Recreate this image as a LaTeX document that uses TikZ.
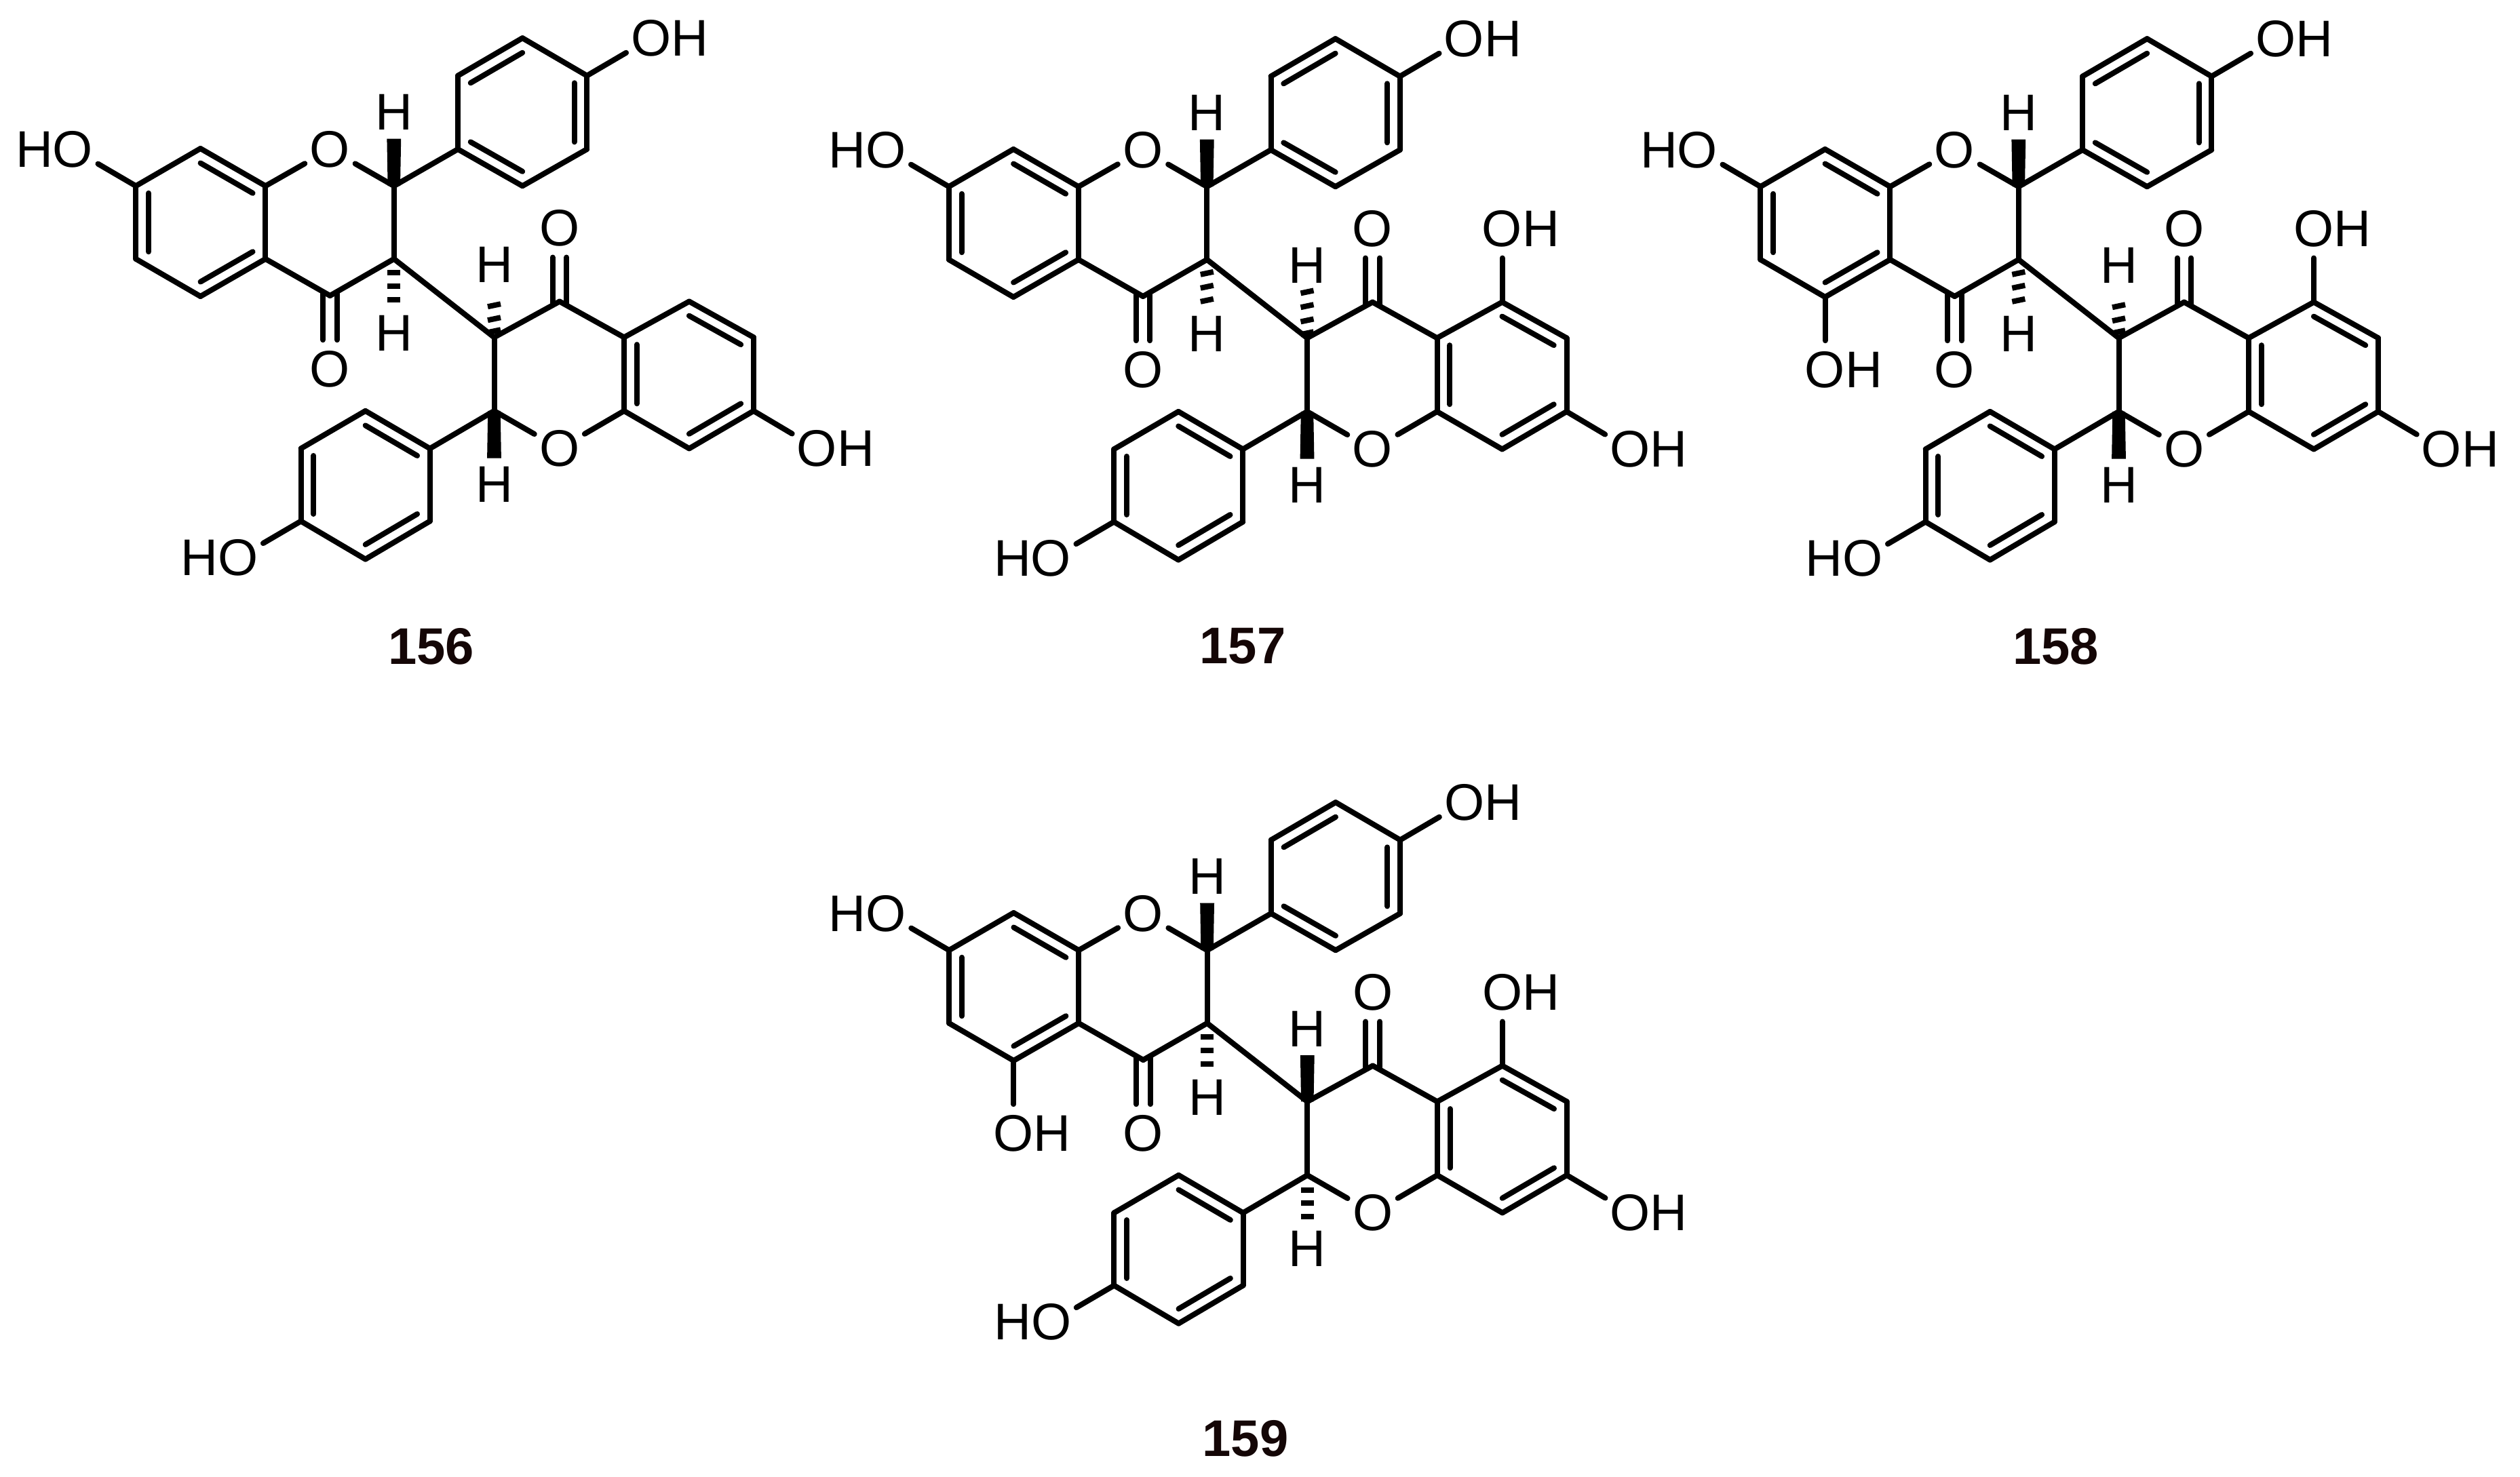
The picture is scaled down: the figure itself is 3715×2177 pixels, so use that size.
\documentclass[tikz,border=0pt]{standalone}
\usepackage{fontspec}
\usetikzlibrary{calc}
\setmainfont{Liberation Sans}
\definecolor{labelink}{RGB}{20,6,6}
\tikzset{
  bond/.style={line width=2pt,line cap=round,line join=miter,black},
  hetero/.style={circle,inner sep=0pt,minimum size=21pt,font=\fontsize{19}{19}\selectfont,text=black},
  hydro/.style={circle,inner sep=0pt,minimum size=19pt,font=\fontsize{19}{19}\selectfont,text=black},
  cmpd/.style={inner sep=0pt,font=\fontsize{19}{19}\selectfont\bfseries,text=labelink},
  hashbar/.style={line width=2pt,line cap=butt,black}
}
% aromatic inner line: edge a-b pulled toward ring centre x
\newcommand{\inner}[3]{\draw[bond] ($(#1)!.803!(#2)$) -- ($(#1)!.803!(#3)$);}
% solid wedge from atom to the border of the H node
\newcommand{\wedgebond}[2]{\fill[black] ([xshift=-2.3pt]#1) -- ([xshift=-2.6pt]#2) -- ([xshift=2.6pt]#2) -- ([xshift=2.3pt]#1) -- cycle;}
% hashed bond: atom, H node, tilt, list of distances
\newcommand{\hashbond}[4]{\foreach \d in {#4}{\draw[hashbar] ($(#1)!\d!(#2)+(-9.5,#3)$) -- ($(#1)!\d!(#2)+(9.5,-#3)$);}}
\newcommand{\flavan}[4]{%
\begin{scope}[shift={(#2,#3)},name prefix=#1-]
  % upper flavanone
  \coordinate (c7) at (200.3,274.2);
  \coordinate (c8) at (295.5,219);
  \coordinate (c8a) at (391.4,274.2);
  \coordinate (c4a) at (391.4,381.8);
  \coordinate (c5) at (295.5,437);
  \coordinate (c6) at (200.3,381.8);
  \coordinate (c2) at (580.8,274.2);
  \coordinate (c3) at (580.8,381.8);
  \coordinate (c4) at (486.5,436);
  \node[hetero] (o1) at (486.5,220) {O};
  \node[hetero] (o4) at (486.5,544) {O};
  \node[hetero] (o7) at (107.5,220) {\llap{H}O};
  \node[hydro] (h2) at (580.8,165.8) {H};
  \node[hydro] (h3) at (580.8,491) {H};
  % upper phenol
  \coordinate (p1) at (675,220);
  \coordinate (p2) at (675,111.6);
  \coordinate (p3) at (770.2,56.1);
  \coordinate (p4) at (865.3,111.6);
  \coordinate (p5) at (865.3,220);
  \coordinate (p6) at (770.2,274.2);
  \node[hetero] (op) at (960,56.1) {O\rlap{H}};
  % lower flavanone
  \coordinate (d3) at (728.5,497.4);
  \coordinate (d2) at (728.5,605.9);
  \coordinate (d4) at (824.9,444.5);
  \coordinate (d4a) at (920,497.4);
  \coordinate (d8a) at (920,605.9);
  \coordinate (d5) at (1016,444.5);
  \coordinate (d6) at (1111,497.4);
  \coordinate (d7) at (1111,605.9);
  \coordinate (d8) at (1016,661.4);
  \node[hetero] (do1) at (824.9,661.4) {O};
  \node[hetero] (do4) at (824.9,336.7) {O};
  \node[hetero] (do7) at (1204.5,661.4) {O\rlap{H}};
  \node[hydro] (d-h3) at (728.5,390.3) {H};
  \node[hydro] (d-h2) at (728.5,714.3) {H};
  % lower phenol
  \coordinate (q1) at (633.8,661.4);
  \coordinate (q2) at (538.7,605.9);
  \coordinate (q3) at (443.6,661.4);
  \coordinate (q4) at (443.6,768.5);
  \coordinate (q5) at (538.7,824.6);
  \coordinate (q6) at (633.8,768.5);
  \node[hetero] (oq) at (351,822.7) {\llap{H}O};
  % ring centres
  \coordinate (ra) at ($(c7)!.5!(c4a)$);
  \coordinate (rp) at ($(p1)!.5!(p4)$);
  \coordinate (rd) at ($(d4a)!.5!(d7)$);
  \coordinate (rq) at ($(q1)!.5!(q4)$);
  % bonds
  \foreach \a/\b in {c7/c8,c8/c8a,c8a/c4a,c4a/c5,c5/c6,c6/c7,c8a/o1,o1/c2,c2/c3,c3/c4,c4/c4a,c7/o7,
    c2/p1,p1/p2,p2/p3,p3/p4,p4/p5,p5/p6,p6/p1,p4/op,c3/d3,
    d3/d2,d2/do1,do1/d8a,d8a/d4a,d4a/d4,d4/d3,d4a/d5,d5/d6,d6/d7,d7/d8,d8/d8a,d7/do7,
    d2/q1,q1/q2,q2/q3,q3/q4,q4/q5,q5/q6,q6/q1,q4/oq}
    {\draw[bond] (\a) -- (\b);}
  % inner lines of the aromatic rings
  \inner{ra}{c7}{c6}\inner{ra}{c8}{c8a}\inner{ra}{c4a}{c5}
  \inner{rp}{p2}{p3}\inner{rp}{p4}{p5}\inner{rp}{p6}{p1}
  \inner{rd}{d4a}{d8a}\inner{rd}{d5}{d6}\inner{rd}{d7}{d8}
  \inner{rq}{q1}{q2}\inner{rq}{q3}{q4}\inner{rq}{q5}{q6}
  % carbonyls
  \draw[bond] ([xshift=-2.6pt,yshift=1.3pt]c4) -- ([xshift=-2.6pt]o4.north);
  \draw[bond] ([xshift=2.6pt,yshift=1.3pt]c4) -- ([xshift=2.6pt]o4.north);
  \draw[bond] ([xshift=-2.6pt,yshift=-1.3pt]d4) -- ([xshift=-2.6pt]do4.south);
  \draw[bond] ([xshift=2.6pt,yshift=-1.3pt]d4) -- ([xshift=2.6pt]do4.south);
  #4
\end{scope}}
\newcommand{\ringAoh}{\node[hetero] (o5) at (295.5,544) {O\rlap{H}}; \draw[bond] (c5) -- (o5);}
\newcommand{\ringDoh}{\node[hetero] (do5) at (1016,336.7) {O\rlap{H}}; \draw[bond] (d5) -- (do5);}
\begin{document}
\begin{tikzpicture}[x=0.25pt,y=-0.25pt]
\useasboundingbox (0,0) rectangle (3715,2177);
\flavan{a}{0}{0}{%
  \wedgebond{c2}{h2.south}\hashbond{c3}{h3}{0}{5pt,10pt,15pt}
  \wedgebond{d2}{d-h2.north}\hashbond{d3}{d-h3}{2}{2.3pt,6.8pt,11.8pt}}
\flavan{b}{1198.5}{1}{\ringDoh
  \wedgebond{c2}{h2.south}\hashbond{c3}{h3}{2}{5pt,10pt,15pt}
  \wedgebond{d2}{d-h2.north}\hashbond{d3}{d-h3}{2}{1.8pt,6.5pt,11.8pt,17pt}}
\flavan{c}{2395}{1}{\ringAoh\ringDoh
  \wedgebond{c2}{h2.south}\hashbond{c3}{h3}{2}{5pt,10pt,15pt}
  \wedgebond{d2}{d-h2.north}\hashbond{d3}{d-h3}{2}{2.3pt,6.8pt,11.8pt}}
\flavan{d}{1198.8}{1127}{\ringAoh\ringDoh
  \wedgebond{c2}{h2.south}\hashbond{c3}{h3}{0}{5pt,10pt,15pt}
  \wedgebond{d3}{d-h3.south}\hashbond{d2}{d-h2}{0}{5.5pt,10.2pt,15.2pt}}
\node[cmpd] (n156) at (635.5,953) {156};
\node[cmpd] (n157) at (1832,953) {157};
\node[cmpd] (n158) at (3030.5,953) {158};
\node[cmpd] (n159) at (1836,2121) {159};
\end{tikzpicture}
\end{document}
